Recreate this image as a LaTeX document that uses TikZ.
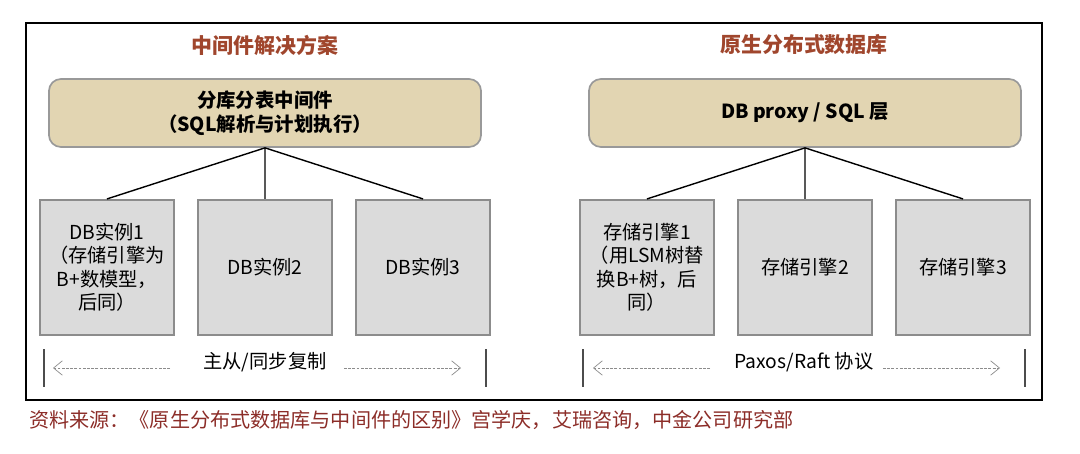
\documentclass[tikz,border=0pt]{standalone}
\usepackage{fontspec}
\setmainfont{Noto Sans CJK SC}
\usetikzlibrary{arrows.meta}

\definecolor{tanfill}{RGB}{226,213,178}
\definecolor{cellfill}{RGB}{219,219,219}
\definecolor{titlered}{RGB}{160,70,45}
\definecolor{srcred}{RGB}{140,45,40}

\tikzset{
  topbox/.style={draw=black!40,line width=1.2pt,fill=tanfill,rounded corners=0.3cm,
    minimum width=10.8cm,minimum height=1.7cm,align=center,
    font=\fontsize{13.8}{17}\selectfont\bfseries},
  cellbox/.style={draw=black!45,line width=1.4pt,fill=cellfill,
    minimum width=3.2cm,minimum height=3.375cm,text width=3.1cm,align=center,
    font=\fontsize{13.7}{16.7}\selectfont},
  heading/.style={text=titlered,font=\fontsize{14.9}{18}\selectfont\bfseries},
  repl/.style={draw=black!45,dashed,dash pattern=on 2pt off 1pt,line width=0.5pt,
    -{Straight Barb[length=0.22cm,width=0.36cm]}},
  bar/.style={draw=black!70,line width=1pt}
}

\begin{document}
\begin{tikzpicture}[x=0.025cm,y=-0.025cm,level distance=3.86cm,sibling distance=3.95cm,
    edge from parent/.style={draw,line width=1pt},
    edge from parent path={(\tikzparentnode.south) -- (\tikzchildnode.north)}]
  \useasboundingbox (0,0) rectangle (1080,454);
  \draw[line width=1pt] (26,23) rectangle (1042,400);

  % left: middleware
  \node[heading] (mwtitle) at (265,45) {中间件解决方案};
  \node[topbox] (mw) at (265,113) {分库分表中间件\\（SQL解析与计划执行）}
    child {node[cellbox] (db1) {DB实例1\\（存储引擎为\\B+数模型，\\后同）}}
    child {node[cellbox] (db2) {DB实例2}}
    child {node[cellbox] (db3) {DB实例3}};

  \node[font=\fontsize{13.7}{16.7}\selectfont] (mwrepl) at (265,362) {主从/同步复制};
  \coordinate (mwl1) at (170,368); \coordinate (mwl2) at (53,368);
  \coordinate (mwr1) at (344,368); \coordinate (mwr2) at (461,368);
  \draw[repl] (mwl1) -- (mwl2);
  \draw[repl] (mwr1) -- (mwr2);
  \draw[bar] (44,349) -- (44,387);
  \draw[bar] (486,349) -- (486,387);

  % right: native distributed db
  \node[heading] (nativetitle) at (804,45) {原生分布式数据库};
  \node[topbox] (proxy) at (805,113) {DB proxy / SQL 层}
    child {node[cellbox] (se1) {存储引擎1\\（用LSM树替\\换B+树，后\\同）}}
    child {node[cellbox] (se2) {存储引擎2}}
    child {node[cellbox] (se3) {存储引擎3}};

  \node[font=\fontsize{13.7}{16.7}\selectfont] (raft) at (804,362) {Paxos/Raft 协议};
  \coordinate (nl1) at (710,368); \coordinate (nl2) at (593,368);
  \coordinate (nr1) at (883,368); \coordinate (nr2) at (1000,368);
  \draw[repl] (nl1) -- (nl2);
  \draw[repl] (nr1) -- (nr2);
  \draw[bar] (583,349) -- (583,387);
  \draw[bar] (1025,349) -- (1025,387);

  \node[anchor=west,inner sep=0pt,text=srcred,font=\fontsize{14.3}{17}\selectfont] (source) at (29,420)
    {资料来源：《原生分布式数据库与中间件的区别》宫学庆，艾瑞咨询，中金公司研究部};
\end{tikzpicture}
\end{document}
